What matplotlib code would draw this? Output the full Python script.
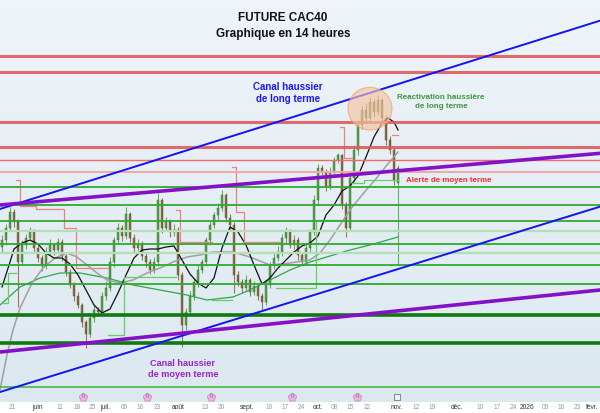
import numpy as np
import matplotlib.pyplot as plt
from matplotlib.patches import Ellipse
from matplotlib.colors import LinearSegmentedColormap

plt.rcParams["font.family"] = ["Liberation Sans", "DejaVu Sans"]

# ----------------------------------------------------------------------
# Data: CAC40 future, 14h bars (index 0 = end of May)
# ----------------------------------------------------------------------

opens = [7815, 7835, 7871, 7919, 7889, 7769, 7820, 7841, 7859, 7811,
         7781, 7757, 7799, 7820, 7805, 7829, 7787, 7739, 7700, 7667,
         7640, 7589, 7553, 7601, 7625, 7619, 7667, 7691, 7769, 7835,
         7871, 7847, 7913, 7841, 7811, 7823, 7787, 7769, 7745, 7769,
         7955, 7871, 7889, 7859, 7865, 7730, 7580, 7619, 7667, 7709,
         7745, 7769, 7835, 7880, 7910, 7931, 7970, 7901, 7880, 7730,
         7709, 7691, 7715, 7679, 7697, 7667, 7649, 7700, 7760, 7781,
         7799, 7841, 7859, 7820, 7835, 7790, 7769, 7811, 7859, 7955,
         8051, 8039, 7997, 8039, 8075, 8090, 7940, 7871, 8021, 8105,
         8180, 8225, 8201, 8249, 8219, 8255, 8201, 8135, 8105, 8006]
highs = [7850, 7883, 7934, 7927, 7899, 7834, 7853, 7875, 7867, 7821,
         7789, 7813, 7838, 7826, 7841, 7838, 7793, 7749, 7708, 7679,
         7646, 7594, 7615, 7643, 7635, 7679, 7711, 7783, 7845, 7887,
         7879, 7934, 7919, 7853, 7838, 7831, 7799, 7779, 7783, 7976,
         7961, 7903, 7899, 7883, 7873, 7740, 7631, 7683, 7721, 7759,
         7779, 7843, 7892, 7920, 7945, 7985, 7976, 7913, 7888, 7742,
         7719, 7729, 7721, 7713, 7705, 7677, 7712, 7770, 7795, 7817,
         7853, 7875, 7867, 7849, 7845, 7798, 7823, 7869, 7971, 8063,
         8061, 8047, 8053, 8085, 8096, 8094, 7950, 8035, 8121, 8194,
         8237, 8245, 8263, 8257, 8270, 8261, 8211, 8147, 8113, 8060]
lows = [7795, 7821, 7861, 7873, 7634, 7759, 7808, 7831, 7797, 7769,
        7741, 7749, 7789, 7791, 7797, 7773, 7727, 7690, 7653, 7630,
        7573, 7511, 7545, 7589, 7609, 7611, 7655, 7681, 7755, 7823,
        7831, 7837, 7829, 7797, 7801, 7775, 7755, 7733, 7735, 7757,
        7857, 7861, 7843, 7847, 7716, 7514, 7566, 7609, 7655, 7695,
        7735, 7757, 7821, 7870, 7896, 7921, 7889, 7864, 7676, 7697,
        7677, 7681, 7667, 7669, 7655, 7625, 7639, 7692, 7748, 7771,
        7787, 7827, 7810, 7808, 7776, 7757, 7759, 7799, 7849, 7941,
        8027, 7983, 7987, 8027, 8065, 7928, 7844, 7861, 8009, 8091,
        8168, 8185, 8191, 8205, 8209, 8189, 8121, 8093, 8001, 7760]
closes = [7835, 7871, 7919, 7889, 7769, 7820, 7841, 7859, 7811, 7781,
          7757, 7799, 7820, 7805, 7829, 7787, 7739, 7700, 7667, 7640,
          7589, 7553, 7601, 7625, 7619, 7667, 7691, 7769, 7835, 7871,
          7847, 7913, 7841, 7811, 7823, 7787, 7769, 7745, 7769, 7955,
          7871, 7889, 7859, 7865, 7730, 7580, 7619, 7667, 7709, 7745,
          7769, 7835, 7880, 7910, 7931, 7970, 7901, 7880, 7730, 7709,
          7691, 7715, 7679, 7697, 7667, 7649, 7700, 7760, 7781, 7799,
          7841, 7859, 7820, 7835, 7790, 7769, 7811, 7859, 7955, 8051,
          8039, 7997, 8039, 8075, 8090, 7940, 7871, 8021, 8105, 8180,
          8225, 8201, 8249, 8219, 8255, 8201, 8135, 8105, 8015, 8051]

# moving averages (bar index, price)
ma_short_idx = [0, 2, 3, 5, 7, 9, 11, 13, 15, 17, 19, 21, 23, 25, 27, 29, 31,
                33, 35, 37, 39, 41, 43, 45, 47, 49, 51, 53, 55, 57, 59, 61, 63,
                65, 67, 69, 71, 73, 75, 77, 79, 81, 83, 85, 87, 89, 91, 93, 95,
                96.5, 98, 99]
ma_short = [7694, 7769, 7808, 7826, 7835, 7823, 7796, 7781, 7781, 7763, 7730,
            7685, 7640, 7616, 7628, 7676, 7730, 7781, 7805, 7808, 7808, 7814,
            7817, 7775, 7733, 7706, 7691, 7721, 7811, 7874, 7859, 7820, 7760,
            7703, 7721, 7751, 7775, 7799, 7817, 7826, 7847, 7910, 7940, 7982,
            7997, 8027, 8084, 8144, 8186, 8201, 8189, 8165]
ma_mid_idx = [-0.5, 1.25, 2.75, 4.5, 7.5, 10.25, 13.25, 16.25, 18.75, 21.25,
              23.75, 26.25, 29.5, 32.75, 36.25, 39.5, 42.75, 46.25, 49.5,
              52.75, 57.75, 62, 67, 72, 77, 79.5, 82, 84.5, 87, 90, 93.25,
              96.25, 99]
ma_mid = [7385, 7490, 7565, 7631, 7706, 7751, 7781, 7796, 7784, 7760, 7736,
          7715, 7706, 7715, 7736, 7751, 7769, 7784, 7790, 7799, 7799, 7784,
          7760, 7766, 7775, 7796, 7835, 7880, 7925, 7970, 8015, 8060, 8099]
ma_long_idx = [-0.5, 4.5, 9.5, 14.5, 19.5, 26.25, 32.75, 39.5, 46.25, 51.25,
               57.75, 62, 67, 72, 77, 82, 87, 92, 99]
ma_long = [7640, 7694, 7721, 7736, 7736, 7721, 7700, 7685, 7670, 7655, 7664,
           7685, 7715, 7745, 7769, 7787, 7805, 7820, 7844]

# stop lines (NaN = not active)
N = np.nan
stop_high = ([N] * 4 + [8015] + [7937] * 4 + [7928] * 7 + [7871] * 3 + [7751] * 8
             + [N] * 17 + [7925] + [7829] * 8 + [N] * 5 + [8054] + [7919] * 2
             + [7829] * 9 + [N] * 15 + [8174] + [8081] * 2 + [N] * 10 + [8150] * 2)
stop_low = ([7646] * 2 + [7736] * 2 + [N] * 23 + [7550] * 4 + [7724] * 13
            + [N] * 9 + [7655] * 5 + [N] * 11 + [7691] * 10 + [7895] * 6
            + [N] * 3 + [8006] * 3 + [8015] * 9)

# horizontal levels
res_major = [8387, 8339, 8189, 8114]
res_minor = [8075]
res_faint = [8039]
sup_levels = [7995, 7941, 7893, 7823, 7761, 7704]
sup_faint = [7862, 7796]
sup_major = [7610, 7526]
sup_low = [7394]

# trend channels: two points each (bar index, price)
long_upper = [(-0.5, 7928), (149.5, 8493)]
long_lower = [(-0.5, 7379), (149.5, 7935)]
mid_upper = [(-0.5, 7940), (149.5, 8095)]
mid_lower = [(-0.5, 7499), (149.5, 7685)]

# dividend markers
div_idx = [20.25, 36.25, 52.25, 72.5, 88.75]

tick_pos = [2.5, 8.75, 14.5, 18.75, 22.5, 25.75, 30.5, 34.5, 38.75, 44,
            50.75, 54.75, 61.25, 66.75, 70.75, 74.75, 79, 83, 87, 91.25,
            98.75, 103.5, 107.5, 113.75, 119.5, 123.75, 127.75, 131.25,
            135.75, 139.75, 143.75, 147.6]
tick_labels = ["21", "juin", "11", "18", "25", "juil.", "09", "16", "23",
               "août", "13", "20", "sept.", "10", "17", "24", "oct.", "08",
               "15", "22", "nov.", "12", "19", "déc.", "10", "17", "24",
               "2026", "09", "16", "23", "févr."]
month_labels = {"juin", "juil.", "août", "sept.", "oct.", "nov.", "déc.",
                "2026", "févr."}

X_MIN, X_MAX = -0.5, 149.5
Y_MIN, Y_MAX = 7349, 8555

# ----------------------------------------------------------------------
# Plot
# ----------------------------------------------------------------------

fig = plt.figure(figsize=(6, 4.13), dpi=100)
ax = fig.add_axes([0, 11 / 413, 1, 402 / 413])
ax.set_xlim(X_MIN, X_MAX)
ax.set_ylim(Y_MIN, Y_MAX)

bg = LinearSegmentedColormap.from_list("bg", ["#dce8f0", "#eef4f9"])
ax.imshow(np.linspace(0, 1, 64).reshape(-1, 1), cmap=bg, origin="lower",
          extent=[X_MIN, X_MAX, Y_MIN, Y_MAX], aspect="auto", zorder=0)

# candles
idx = np.arange(len(closes))
o = np.array(opens)
c = np.array(closes)
up = c >= o
cols = np.where(up, "#4a9a3c", "#875a30")
ax.vlines(idx, lows, highs, colors=cols, linewidth=0.8, alpha=0.8, zorder=2)
ax.bar(idx, np.maximum(np.abs(c - o), 3), bottom=np.minimum(o, c), width=0.72,
       color=cols, alpha=0.85, edgecolor="#3c5a2a", linewidth=0.3, zorder=2)

# indicators
ax.plot(ma_long_idx, ma_long, color="#2ea84a", lw=0.9, zorder=3)
ax.plot(ma_mid_idx, ma_mid, color="#a0a0a0", lw=1.1, zorder=3)
ax.plot(ma_short_idx, ma_short, color="#111111", lw=0.9, zorder=3)
ax.step(idx, stop_high, where="mid", color="#f08080", lw=0.9, zorder=3)
ax.step(idx, stop_low, where="mid", color="#66d066", lw=0.9, zorder=3)

# horizontal levels
for lvl in res_major:
    ax.axhline(lvl, color="#e05a5a", lw=2.2, alpha=0.9, zorder=4)
for lvl in res_minor:
    ax.axhline(lvl, color="#f06a6a", lw=1.0, zorder=4)
for lvl in res_faint:
    ax.axhline(lvl, color="#f4a6a6", lw=1.4, zorder=4)
for lvl in sup_levels:
    ax.axhline(lvl, color="#2eaa2e", lw=1.3, zorder=4)
for lvl in sup_faint:
    ax.axhline(lvl, color="#b4deb4", lw=1.6, zorder=4)
for lvl in sup_major:
    ax.axhline(lvl, color="#107a10", lw=2.6, zorder=4)
for lvl in sup_low:
    ax.axhline(lvl, color="#44bb44", lw=1.2, zorder=4)

# channels
for p1, p2 in (long_upper, long_lower):
    ax.axline(p1, p2, color="#1414f0", lw=1.4, zorder=5)
for p1, p2 in (mid_upper, mid_lower):
    ax.axline(p1, p2, color="#8410c8", lw=2.6, zorder=5)

ax.add_patch(Ellipse((92, 8229), 11, 128, facecolor="#f5c4a0", alpha=0.65,
                     edgecolor="#ee9a66", lw=0.8, zorder=6))

# dividend / info markers
for d in div_idx:
    ax.scatter(d, 7365, marker="p", s=40, color="#e7b9e0", edgecolor="#c98cc0",
               lw=0.6, zorder=6)
    ax.text(d, 7365, "R", fontsize=3.5, color="#a05aa0", ha="center",
            va="center", zorder=7)
ax.scatter(98.75, 7365, marker="s", s=22, facecolor="#eef2f5",
           edgecolor="#777777", lw=0.6, zorder=6)

# texts
T = ax.transAxes
ax.text(283 / 600, 1 - 18 / 402, "FUTURE CAC40", transform=T, ha="center",
        va="center", fontsize=8.5, fontweight="bold", color="#111111")
ax.text(283 / 600, 1 - 34 / 402, "Graphique en 14 heures", transform=T,
        ha="center", va="center", fontsize=8.5, fontweight="bold", color="#111111")
ax.text(288 / 600, 1 - 93 / 402, "Canal haussier\nde long terme", transform=T,
        ha="center", va="center", fontsize=7, fontweight="bold", color="#1a1aff",
        linespacing=1.3, zorder=7)
ax.text(441 / 600, 1 - 102 / 402, "Reactivation haussière\nde long terme",
        transform=T, ha="center", va="center", fontsize=5.8, fontweight="bold",
        color="#3a9a3a", linespacing=1.35, zorder=7)
ax.text(449 / 600, 1 - 181 / 402, "Alerte de moyen terme", transform=T,
        ha="center", va="center", fontsize=5.7, fontweight="bold",
        color="#ff2a2a", zorder=7)
ax.text(183 / 600, 1 - 369 / 402, "Canal haussier\nde moyen terme", transform=T,
        ha="center", va="center", fontsize=6.6, fontweight="bold",
        color="#9a22c8", linespacing=1.3, zorder=7)

# x axis
ax.set_xticks(tick_pos)
ax.set_xticklabels(tick_labels)
for lab in ax.get_xticklabels():
    lab.set_fontsize(4.8)
    lab.set_color("#333333" if lab.get_text() in month_labels else "#9a9a9a")
ax.tick_params(axis="x", length=0, pad=1.5)
ax.set_yticks([])
for s in ax.spines.values():
    s.set_visible(False)

fig.savefig("out.png", dpi=100, facecolor="white")
